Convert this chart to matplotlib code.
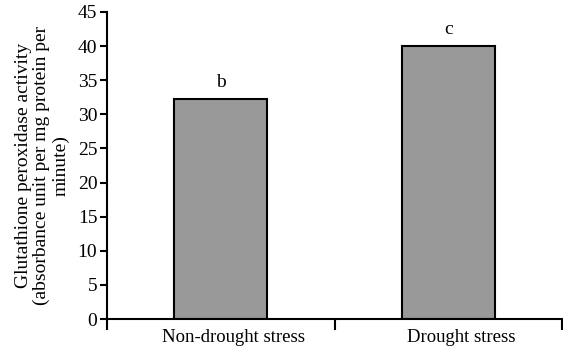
import matplotlib
matplotlib.use("Agg")
import matplotlib.pyplot as plt
from matplotlib.ticker import FixedLocator
from matplotlib.transforms import ScaledTranslation

categories = ["Non-drought stress", "Drought stress"]
values = [32.25, 40.0]
letters = ["b", "c"]
yticks = [0, 5, 10, 15, 20, 25, 30, 35, 40, 45]

plt.rcParams['font.family'] = ['Liberation Serif', 'DejaVu Serif']

fig = plt.figure(figsize=(5.63, 3.51), dpi=100)
ax = fig.add_axes([107/563, 1-319/351, (562-107)/563, (319-12)/351])

x = list(range(len(categories)))
ax.bar(x, values, width=0.41, color='#999999', edgecolor='black', linewidth=1.5, zorder=2)
for xi, v, l in zip(x, values, letters):
    ax.text(xi, v + 1.8, l, ha='center', va='baseline', fontsize=14)

ax.set_xlim(-0.5, 1.5)
ax.set_ylim(0, 45)
ax.set_yticks(yticks)
ax.set_xticks(x)
ax.set_xticklabels(categories, fontsize=13.5)
ax.xaxis.set_minor_locator(FixedLocator([-0.5, 0.5, 1.5]))
ax.tick_params(axis='x', which='major', length=0, pad=7)
ax.tick_params(axis='x', which='minor', length=8, width=1.5, direction='out')
ax.tick_params(axis='y', length=5, width=1.5, direction='out', labelsize=14, pad=2)

shift = ScaledTranslation(13/100, 0, fig.dpi_scale_trans)
for lbl in ax.get_xticklabels():
    lbl.set_transform(lbl.get_transform() + shift)

for s in ['top', 'right']:
    ax.spines[s].set_visible(False)
for s in ['left', 'bottom']:
    ax.spines[s].set_linewidth(1.5)

ax.set_ylabel("Glutathione peroxidase activity\n(absorbance unit per mg protein per\nminute)",
              fontsize=14, linespacing=1.12, labelpad=6)

fig.savefig("out.png", dpi=100)
